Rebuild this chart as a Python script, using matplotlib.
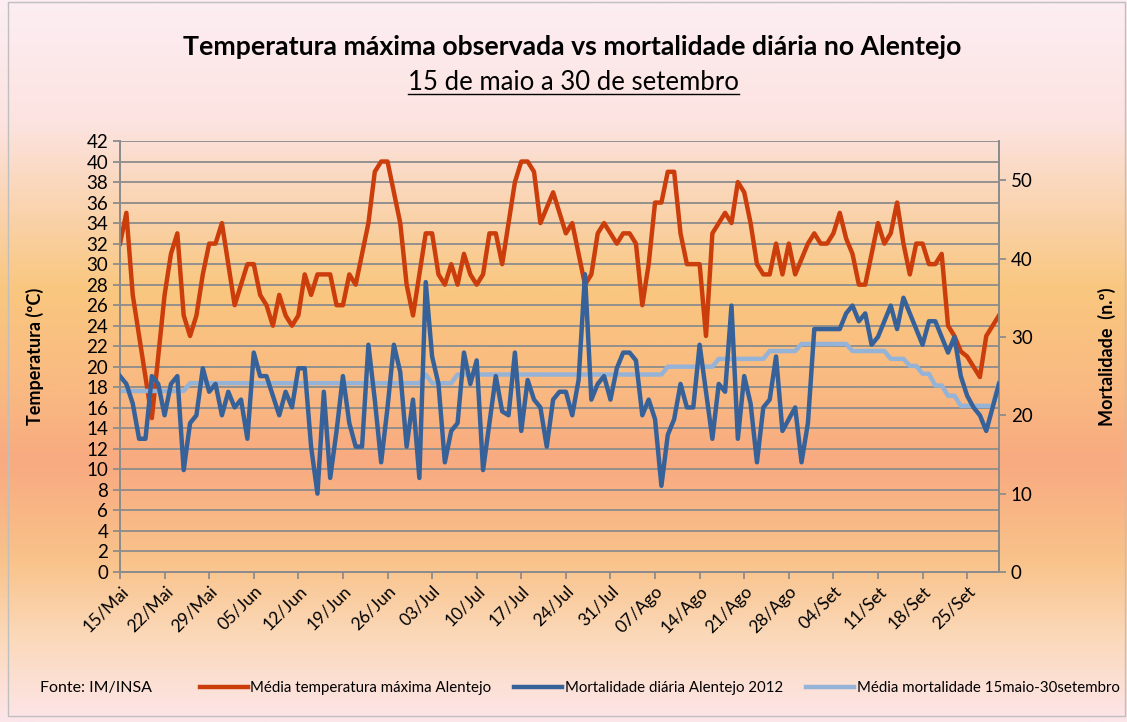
import matplotlib.pyplot as plt
import matplotlib.colors as mcolors
from matplotlib.lines import Line2D
from matplotlib.patches import Rectangle
import numpy as np

plt.rcParams['font.family'] = ['Lato', 'DejaVu Sans']

# Daily values, 15 May -> 30 Sep (139 days)
temp_max = [32, 35, 27, 23, 19, 15, 21, 27, 31, 33, 25, 23, 25, 29, 32, 32, 34, 30, 26, 28,
            30, 30, 27, 26, 24, 27, 25, 24, 25, 29, 27, 29, 29, 29, 26, 26, 29, 28, 31, 34,
            39, 40, 40, 37, 34, 28, 25, 29, 33, 33, 29, 28, 30, 28, 31, 29, 28, 29, 33, 33,
            30, 34, 38, 40, 40, 39, 34, 35.5, 37, 35, 33, 34, 31, 28, 29, 33, 34, 33, 32, 33,
            33, 32, 26, 30, 36, 36, 39, 39, 33, 30, 30, 30, 23, 33, 34, 35, 34, 38, 37, 34,
            30, 29, 29, 32, 29, 32, 29, 30.5, 32, 33, 32, 32, 33, 35, 32.5, 31, 28, 28, 31, 34,
            32, 33, 36, 32, 29, 32, 32, 30, 30, 31, 24, 23, 21.5, 21, 20, 19, 23, 24, 25]

mortality = [25, 24, 21.5, 17, 17, 25, 24, 20, 24, 25, 13, 19, 20, 26, 23, 24, 20, 23, 21, 22,
             17, 28, 25, 25, 22.5, 20, 23, 21, 26, 26, 16, 10, 23, 12, 18, 25, 19, 16, 16, 29,
             22, 14, 21, 29, 25.5, 16, 22, 12, 37, 27.5, 24, 14, 18, 19, 28, 24, 27, 13, 19, 25,
             20.5, 20, 28, 18, 24.5, 22, 21, 16, 22, 23, 23, 20, 24.5, 38, 22, 24, 25, 22, 26, 28,
             28, 27, 20, 22, 19.5, 11, 17.5, 19.5, 24, 21, 21, 29, 23, 17, 24, 23, 34, 17, 25, 21.5,
             14, 21, 22, 27.5, 18, 19.5, 21, 14, 19, 31, 31, 31, 31, 31, 33, 34, 32, 33, 29, 30,
             32, 34, 31, 35, 33, 31, 29, 32, 32, 30, 28, 30, 25, 22.5, 21, 20, 18, 21, 24]

mortality_mean = [23.1, 23.1, 23.1, 23.1, 23.1, 23.1, 23.1, 23.1, 23.1, 23.1, 23.1,
                  24.1, 24.1, 24.1, 24.1, 24.1, 24.1, 24.1, 24.1, 24.1, 24.1, 24.1, 24.1, 24.1,
                  24.1, 24.1, 24.1, 24.1, 24.1, 24.1, 24.1, 24.1, 24.1, 24.1, 24.1, 24.1, 24.1,
                  24.1, 24.1, 24.1, 24.1, 24.1, 24.1, 24.1, 24.1, 24.1, 24.1, 24.1,
                  25.2, 24.1, 24.1, 24.1, 24.1,
                  25.2, 25.2, 25.2, 25.2, 25.2, 25.2, 25.2, 25.2, 25.2, 25.2, 25.2, 25.2, 25.2,
                  25.2, 25.2, 25.2, 25.2, 25.2, 25.2, 25.2, 25.2, 25.2, 25.2, 25.2, 25.2, 25.2,
                  25.2, 25.2, 25.2, 25.2, 25.2, 25.2, 25.2,
                  26.2, 26.2, 26.2, 26.2, 26.2, 26.2, 26.2, 26.2,
                  27.2, 27.2, 27.2, 27.2, 27.2, 27.2, 27.2, 27.2,
                  28.2, 28.2, 28.2, 28.2, 28.2,
                  29.1, 29.1, 29.1, 29.1, 29.1, 29.1, 29.1, 29.1,
                  28.2, 28.2, 28.2, 28.2, 28.2, 28.2,
                  27.2, 27.2, 27.2, 26.3, 26.3, 25.3, 25.3, 23.8, 23.8, 22.5, 22.5,
                  21.2, 21.2, 21.2, 21.2, 21.2, 21.2, 24.2]

date_labels = ['15/Mai', '22/Mai', '29/Mai', '05/Jun', '12/Jun', '19/Jun', '26/Jun',
               '03/Jul', '10/Jul', '17/Jul', '24/Jul', '31/Jul', '07/Ago', '14/Ago',
               '21/Ago', '28/Ago', '04/Set', '11/Set', '18/Set', '25/Set']

days = np.arange(len(temp_max))

RED = '#CC3D0C'
BLUE = '#376299'
LIGHT = '#95B3D7'
GRID = '#8C8C8C'

fig = plt.figure(figsize=(11.27, 7.22), dpi=100)

# vertical background gradient over the whole figure
stops = [(0.00, '#FDEEF3'), (0.17, '#FCE3E0'), (0.30, '#FAD2AA'), (0.40, '#F9C77F'),
         (0.55, '#F9B882'), (0.64, '#F8AA80'), (0.78, '#F9C38B'), (0.88, '#FBD8B8'),
         (1.00, '#FDE6EA')]
cmap = mcolors.LinearSegmentedColormap.from_list('bg', stops)
bg = fig.add_axes([0, 0, 1, 1], zorder=-10)
bg.imshow(np.linspace(0, 1, 512).reshape(-1, 1), aspect='auto', cmap=cmap,
          extent=[0, 1, 0, 1], origin='upper')
bg.axis('off')
fig.patches.append(Rectangle((8 / 1127, 6 / 722), 1117 / 1127, 714 / 722,
                             transform=fig.transFigure, fill=False,
                             edgecolor='#BFBFBF', lw=1))

ax = fig.add_axes([120 / 1127, 1 - 572 / 722, 879 / 1127, 431 / 722])
ax.patch.set_alpha(0)
ax2 = ax.twinx()

ax.plot(days, temp_max, color=RED, lw=3.2, solid_joinstyle='round', zorder=3,
        label='Média temperatura máxima Alentejo')
ax2.plot(days, mortality, color=BLUE, lw=3.2, solid_joinstyle='round', zorder=3,
         label='Mortalidade diária Alentejo 2012')
ax2.plot(days, mortality_mean, color=LIGHT, lw=3.2, solid_joinstyle='round', zorder=2,
         label='Média mortalidade 15maio-30setembro')

ax.set_xlim(0, len(days) - 1)
ax.set_ylim(0, 42)
ax.set_yticks(np.arange(0, 43, 2))
ax2.set_ylim(0, 55)
ax2.set_yticks(np.arange(0, 51, 10))
ax.grid(axis='y', color=GRID, lw=1.3)
ax.set_axisbelow(True)

ax.set_xticks(np.arange(0, len(days), 7))
ax.set_xticklabels(date_labels, rotation=45, ha='right', rotation_mode='anchor')

for a in (ax, ax2):
    for s in a.spines.values():
        s.set_color(GRID)
        s.set_linewidth(1.3)
    a.spines['top'].set_visible(False)
    a.tick_params(colors=GRID, length=5, width=1.3, labelcolor='black', labelsize=13.5)
ax.tick_params(axis='x', labelsize=12.5, pad=3)

ax.set_ylabel('Temperatura (ºC)', fontsize=13, fontweight='bold')
ax.yaxis.set_label_coords(-0.087, 0.5)
ax2.set_ylabel('Mortalidade  (n.º)', fontsize=13, fontweight='bold')
ax2.yaxis.set_label_coords(1.112, 0.5)

fig.text(0.508, 1 - 47 / 722, 'Temperatura máxima observada vs mortalidade diária no Alentejo',
         ha='center', va='center', fontsize=19.2, fontweight='bold')
sub = fig.text(0.509, 1 - 82 / 722, '15 de maio a 30 de setembro',
               ha='center', va='center', fontsize=18.5)

# underline the subtitle
fig.canvas.draw()
bb = sub.get_window_extent().transformed(fig.transFigure.inverted())
fig.add_artist(Line2D([bb.x0, bb.x1], [bb.y0 + 0.001, bb.y0 + 0.001],
                      transform=fig.transFigure, color='black', lw=1))

fig.text(40 / 1127, 1 - 688 / 722, 'Fonte: IM/INSA', ha='left', va='center', fontsize=11.5)
h1, l1 = ax.get_legend_handles_labels()
h2, l2 = ax2.get_legend_handles_labels()
fig.legend(h1 + h2, l1 + l2, loc='center left', bbox_to_anchor=(186 / 1127, 1 - 688 / 722),
           ncol=3, frameon=False, fontsize=10.8, handlelength=3.2, handletextpad=0.2,
           columnspacing=1.5)

fig.savefig('out.png', dpi=100)
